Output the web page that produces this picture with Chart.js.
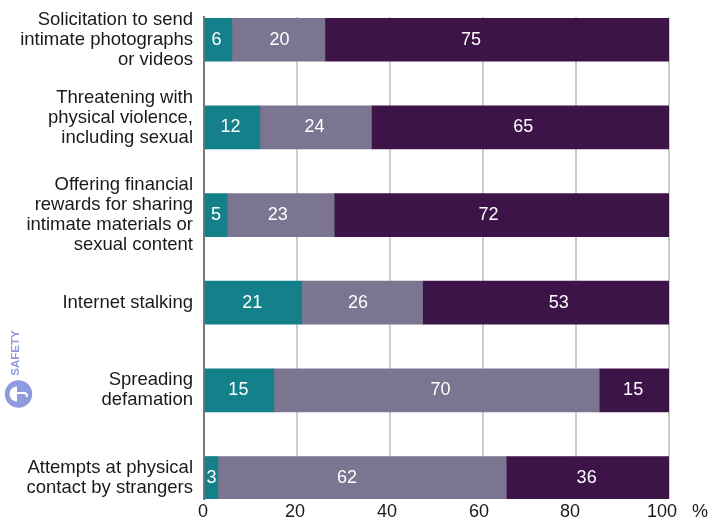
<!DOCTYPE html>
<html>
<head>
<meta charset="utf-8">
<style>
  html, body { margin: 0; padding: 0; background: #fff; }
  #wrap { width: 710px; height: 520px; }
</style>
<script src="https://cdn.jsdelivr.net/npm/chart.js@4"></script>
</head>
<body>
<div id="wrap"><canvas id="chart" width="710" height="520"></canvas></div>
<script>
// the empty last line lifts that label a bit above its bar
const categories = [
    ["Solicitation to send", "intimate photographs", "or videos"],
    ["Threatening with", "physical violence,", "including sexual", ""],
    ["Offering financial", "rewards for sharing", "intimate materials or", "sexual content"],
    ["Internet stalking"],
    ["Spreading", "defamation"],
    ["Attempts at physical", "contact by strangers"],
];
const tealValues = [6, 12, 5, 21, 15, 3];
const greyValues = [20, 24, 23, 26, 70, 62];
const purpleValues = [75, 65, 72, 53, 15, 36];
const xTicks = [0, 20, 40, 60, 80, 100];

const FONT = "'Liberation Sans', Arial, sans-serif";
const TEXT_COLOR = "#1a1a1a";
const BADGE_COLOR = "#8f9bde";

// value labels sit a little off the centre of their segment
const labelNudge = [
    [-2, -2, 0, -1, -1, 0],
    [1, -1, -3, -4, 4, -15],
    [-26, 3, -13, 13, -1, -1],
];
// axis numbers drift left of their grid lines
const xTickNudge = [-1, -2, -3, -4, -6, -7];

const toPoints = (values) => values.map((v, i) => ({ x: v, y: i }));

const segmentLabels = {
    id: "segmentLabels",
    afterDatasetsDraw(chart) {
        const { ctx, chartArea } = chart;
        ctx.save();
        ctx.fillStyle = "#fff";
        ctx.font = "18px " + FONT;
        ctx.textAlign = "center";
        ctx.textBaseline = "middle";
        chart.data.datasets.forEach((ds, d) => {
            chart.getDatasetMeta(d).data.forEach((bar, i) => {
                // stacks can run past 100, the plot edge cuts them off
                const right = Math.min(bar.x, chartArea.right);
                const mid = (bar.base + right) / 2 + labelNudge[d][i];
                ctx.fillText(ds.data[i].x, mid, bar.y);
            });
        });
        ctx.restore();
    },
};

const extras = {
    id: "extras",
    afterDraw(chart) {
        const { ctx } = chart;
        ctx.save();

        // axis numbers and the unit mark
        ctx.fillStyle = TEXT_COLOR;
        ctx.font = "18px " + FONT;
        ctx.textAlign = "center";
        ctx.textBaseline = "middle";
        xTicks.forEach((v, i) => {
            ctx.fillText(v, chart.scales.x.getPixelForValue(v) + xTickNudge[i], 512);
        });
        ctx.textAlign = "left";
        ctx.fillText("%", 692, 512);

        // small badge on the left
        ctx.fillStyle = BADGE_COLOR;
        ctx.beginPath();
        ctx.arc(18.5, 394, 13.7, 0, Math.PI * 2);
        ctx.fill();
        ctx.fillStyle = "#fff";
        ctx.strokeStyle = "#fff";
        ctx.lineWidth = 2;
        ctx.beginPath();
        ctx.arc(17, 394, 7.5, Math.PI / 2, Math.PI * 1.5);
        ctx.closePath();
        ctx.fill();
        ctx.beginPath();
        ctx.moveTo(17, 393);
        ctx.lineTo(24, 393);
        ctx.quadraticCurveTo(27, 393, 27, 397);
        ctx.stroke();

        ctx.translate(16, 353);
        ctx.rotate(-Math.PI / 2);
        ctx.fillStyle = BADGE_COLOR;
        ctx.font = "bold 11.5px " + FONT;
        ctx.textAlign = "center";
        ctx.fillText("SAFETY", 0, 0);
        ctx.restore();
    },
};

new Chart(document.getElementById("chart"), {
    type: "bar",
    data: {
        datasets: [
            { data: toPoints(tealValues), backgroundColor: "#14808a" },
            { data: toPoints(greyValues), backgroundColor: "#7b7591" },
            { data: toPoints(purpleValues), backgroundColor: "#3d1448" },
        ],
    },
    options: {
        indexAxis: "y",
        responsive: false,
        animation: false,
        barThickness: 43,
        layout: { padding: { top: 17, right: 41, bottom: 0, left: 0 } },
        plugins: { legend: { display: false }, tooltip: { enabled: false } },
        scales: {
            x: {
                type: "linear",
                stacked: true,
                min: 0,
                max: 100,
                afterBuildTicks(scale) {
                    scale.ticks = xTicks.map((v) => ({ value: v }));
                },
                afterFit(scale) {
                    scale.height = 21;
                    scale.paddingLeft = 0;
                    scale.paddingRight = 0;
                },
                grid: { color: "#cccccc", lineWidth: 2, drawTicks: false },
                border: { display: false },
                ticks: { display: false },
            },
            y: {
                type: "linear",
                stacked: true,
                reverse: true,
                offset: false,
                min: -0.26,
                max: 5.24,
                afterFit(scale) {
                    scale.width = 204;
                    // long labels may hang past the plot, keep the plot height fixed
                    scale.paddingTop = 0;
                    scale.paddingBottom = 0;
                },
                grid: { display: false, drawTicks: false, offset: false },
                border: { display: true, color: "#777", width: 2 },
                ticks: {
                    stepSize: 1,
                    includeBounds: false,
                    autoSkip: false,
                    padding: 11,
                    color: TEXT_COLOR,
                    font: { family: FONT, size: 18.5, lineHeight: 1.08 },
                    callback: (value) => categories[value],
                },
            },
        },
    },
    plugins: [segmentLabels, extras],
});
</script>
</body>
</html>
